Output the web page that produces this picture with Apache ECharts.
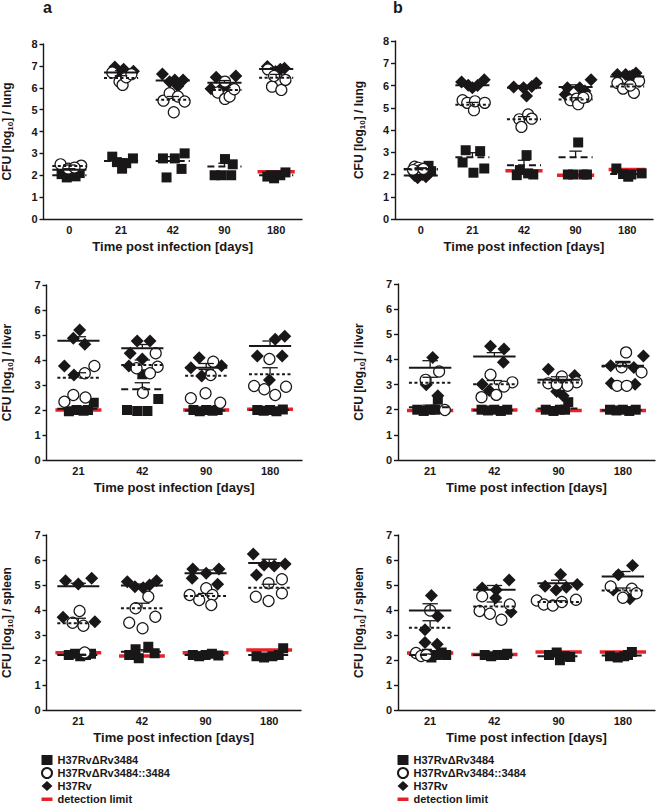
<!DOCTYPE html>
<html><head><meta charset="utf-8">
<script src="https://cdn.jsdelivr.net/npm/echarts@6/dist/echarts.min.js"></script>
<style>html,body{margin:0;padding:0;background:#fff}#c{width:660px;height:805px}</style>
</head><body><div id="c"></div>
<script>
// ---------------- categories ----------------
const DAYS_LUNG = ['0','21','42','90','180'];
const DAYS_ORGAN = ['21','42','90','180'];

// ---------------- panel a, lung ----------------
const A_LUNG_KO = [[2.05,1.9,2.0,1.95,2.1],[2.85,2.6,2.3,2.55,2.77],[2.77,1.9,2.77,2.29,3.0],[2.0,2.0,2.74,2.0,2.5],[1.94,2.0,1.86,2.0,2.13]];
const A_LUNG_COMP = [[2.5,2.44,2.3,2.35],[6.7,6.28,6.13,6.48,6.62],[5.41,5.75,4.88,5.6,5.37],[5.78,6.28,5.49,5.6,5.93],[6.84,6.05,6.54,5.9,6.36]];
const A_LUNG_WT = [[2.2,2.1,2.3,2.15,2.25],[6.95,6.6,6.85,6.55,6.75],[6.63,6.28,6.36,6.08,6.36],[5.95,6.48,6.05,5.9,6.54],[6.97,6.8,6.74,6.85,6.89]];
const A_LUNG_KO_MS = [[2.0,0.05],[2.65,0.1],[2.65,0.2],[2.4,0.15],[2.0,0.05]];
const A_LUNG_COMP_MS = [[2.42,0.05],[6.45,0.1],[5.45,0.15],[5.9,0.1],[6.46,0.15]];
const A_LUNG_WT_MS = [[2.25,0.05],[6.7,0.08],[6.33,0.08],[6.23,0.1],[6.86,0.05]];
const A_LUNG_LIMIT = [null,null,null,null,2.16];

// ---------------- panel b, lung ----------------
const B_LUNG_KO = [[2.39,2.25,2.3,2.2,2.15],[3.09,2.54,2.08,3.05,2.27],[1.97,2.2,2.87,2.05,2.0],[2.0,2.0,3.44,2.0,2.0],[2.27,2.02,1.9,2.0,2.05]];
const B_LUNG_COMP = [[2.35,2.3,2.2,2.2,2.25],[5.34,5.22,4.89,5.29,5.22],[4.48,4.14,4.7,4.51],[5.34,5.41,5.16,5.49,5.45],[6.11,5.86,5.67,6.2,6.0]];
const B_LUNG_WT = [[1.85,1.95,2.0,1.9,2.05],[6.16,6.01,5.9,6.0,6.26],[5.93,5.9,5.53,5.95,6.11],[5.6,5.9,5.9,5.75,6.26],[6.5,6.5,6.56,6.4,6.45]];
const B_LUNG_KO_MS = [[2.25,0.05],[2.78,0.2],[2.42,0.22],[2.78,0.27],[2.02,0.05]];
const B_LUNG_COMP_MS = [[2.23,0.04],[5.14,0.1],[4.48,0.12],[5.37,0.08],[5.96,0.1]];
const B_LUNG_WT_MS = [[1.95,0.05],[6.01,0.08],[5.9,0.1],[5.93,0.1],[6.41,0.05]];
const B_LUNG_LIMIT = [null,null,2.17,1.97,2.23];

// ---------------- panel a, liver ----------------
const A_LIVER_KO = [[2.29,1.95,2.0,1.97,2.0],[3.43,2.44,2.0,1.96,1.96],[2.0,1.95,2.0,1.97,2.0],[2.0,1.97,2.0,1.95,2.02]];
const A_LIVER_COMP = [[3.76,3.47,2.6,2.5,2.33],[4.27,3.67,3.73,3.47,2.69],[3.93,3.4,2.67,2.47,2.29],[4.04,2.96,2.83,2.6,2.93]];
const A_LIVER_WT = [[5.2,4.87,4.63,3.76,3.4],[4.76,4.76,4.27,4.04,3.76],[4.09,3.77,3.69,3.36],[4.83,4.95,4.16,4.16,3.2]];
const A_LIVER_KO_MS = [[2.05,0.06],[2.83,0.26],[1.98,0.02],[2.0,0.02]];
const A_LIVER_COMP_MS = [[3.29,0.2],[3.8,0.2],[3.37,0.25],[3.43,0.26]];
const A_LIVER_WT_MS = [[4.77,0.16],[4.47,0.15],[3.69,0.17],[4.56,0.2]];
const A_LIVER_LIMIT = [2.0,null,2.0,2.03];

// ---------------- panel b, liver ----------------
const B_LIVER_KO = [[2.0,1.95,2.0,2.0,2.4],[2.0,1.97,2.0,1.95,2.0],[2.0,1.95,2.3,2.0,2.0],[2.0,1.97,2.0,1.95,2.0]];
const B_LIVER_COMP = [[3.52,3.19,1.99],[3.39,3.09,2.92,2.59,2.5],[3.32,3.05,3.09,2.95,3.0],[4.28,3.69,3.49,2.95,2.95]];
const B_LIVER_WT = [[4.08,2.99,2.56],[4.52,4.41,3.89,3.01,2.76],[3.61,3.36,2.72,2.56],[4.14,3.75,3.68,3.05,3.01]];
const B_LIVER_KO_MS = [[2.1,0.08],[1.98,0.02],[2.05,0.05],[1.98,0.02]];
const B_LIVER_COMP_MS = [[3.07,0.22],[3.01,0.15],[3.08,0.07],[3.72,0.15]];
const B_LIVER_WT_MS = [[3.67,0.28],[4.12,0.15],[3.19,0.12],[3.75,0.17]];
const B_LIVER_LIMIT = [1.97,1.99,1.97,1.97];

// ---------------- panel a, spleen ----------------
const A_SPLEEN_KO = [[2.2,2.25,2.15,2.2,2.25],[2.53,2.43,2.2,2.07,2.27],[2.2,2.15,2.2,2.25,2.18],[2.47,2.15,2.1,2.15,2.2]];
const A_SPLEEN_COMP = [[3.96,3.49,3.37,2.3],[4.53,4.07,3.49,3.73,3.27],[4.87,4.6,4.4,4.6,4.2],[5.23,5.07,4.53,4.67,4.36]];
const A_SPLEEN_WT = [[5.17,5.04,5.27,3.71,3.53],[5.13,5.17,4.93,4.89,5.0],[5.64,5.64,5.47,5.27,5.03],[6.24,5.8,5.76,5.84,5.4]];
const A_SPLEEN_KO_MS = [[2.2,0.03],[2.33,0.08],[2.2,0.02],[2.2,0.06]];
const A_SPLEEN_COMP_MS = [[3.47,0.2],[4.07,0.2],[4.56,0.1],[4.89,0.14]];
const A_SPLEEN_WT_MS = [[4.95,0.12],[4.98,0.06],[5.47,0.13],[5.88,0.15]];
const A_SPLEEN_LIMIT = [2.29,2.16,2.29,2.4];

// ---------------- panel b, spleen ----------------
const B_SPLEEN_KO = [[2.25,2.1,2.2,2.3,2.2],[2.2,2.15,2.2,2.2,2.25],[2.3,2.12,1.99,2.2,2.15],[2.32,2.15,2.1,2.15,2.2]];
const B_SPLEEN_COMP = [[3.98,2.28,2.16,2.2],[4.55,4.22,3.96,3.85,3.61],[4.38,4.22,4.18,4.32,4.41],[4.94,4.85,4.49,4.67]];
const B_SPLEEN_WT = [[4.58,3.21,3.75,2.7,2.63],[5.2,4.88,4.8,4.48,3.92],[5.42,4.95,4.8,4.91,5.02],[5.78,5.41,4.8,4.45]];
const B_SPLEEN_KO_MS = [[2.2,0.04],[2.2,0.03],[2.15,0.05],[2.18,0.04]];
const B_SPLEEN_COMP_MS = [[3.29,0.28],[4.14,0.18],[4.32,0.05],[4.78,0.1]];
const B_SPLEEN_WT_MS = [[3.98,0.27],[4.81,0.17],[5.07,0.12],[5.34,0.2]];
const B_SPLEEN_LIMIT = [2.28,2.22,2.32,2.32];

// ---------------- layout: horizontal scatter offsets (fraction of a category band) ----------------
const A_LUNG_KO_DX = [[-0.15,-0.05,0.03,0.12,0.2],[-0.17,-0.08,0.02,0.1,0.23],[-0.19,-0.12,0.04,0.17,0.23],[-0.19,-0.06,0.01,0.13,0.16],[-0.17,-0.1,-0.04,0.08,0.18]];
const A_LUNG_COMP_DX = [[-0.17,0.23,-0.02,0.1],[-0.17,-0.03,0.03,0.1,0.2],[-0.18,-0.06,0.02,0.1,0.23],[-0.13,0.01,0.01,0.1,0.19],[-0.16,-0.08,-0.04,0.1,0.18]];
const A_LUNG_WT_DX = [[-0.1,0.05,0.15,-0.02,0.08],[-0.12,-0.02,0.05,0.12,0.24],[-0.2,-0.06,0.04,0.1,0.2],[-0.26,-0.16,-0.03,0.13,0.22],[-0.17,-0.1,-0.01,0.08,0.16]];
const B_LUNG_KO_DX = [[0.15,0.05,-0.05,0.1,0.2],[-0.13,-0.19,0.02,0.15,0.23],[-0.14,-0.08,0.05,0.08,0.18],[-0.15,-0.05,0.05,0.15,0.22],[-0.21,-0.08,0.02,0.08,0.28]];
const B_LUNG_COMP_DX = [[-0.12,-0.05,0.0,-0.15,0.05],[-0.19,-0.1,0.03,0.05,0.24],[-0.09,-0.05,0.08,0.15],[-0.1,0.02,0.05,0.21,0.15],[-0.19,-0.08,0.13,0.23,0.06]];
const B_LUNG_WT_DX = [[-0.06,-0.12,0.03,0.1,0.16],[-0.21,-0.08,0.0,0.1,0.23],[-0.2,-0.01,0.05,0.15,0.24],[-0.2,-0.16,0.08,0.18,0.3],[-0.19,-0.03,0.17,0.05,0.1]];
const A_LIVER_KO_DX = [[0.24,-0.15,-0.03,0.08,0.15],[0.0,0.25,-0.24,-0.08,0.08],[-0.2,-0.1,0.0,0.1,0.18],[-0.2,-0.1,0.0,0.1,0.2]];
const A_LIVER_COMP_DX = [[0.25,0.1,-0.08,0.11,-0.22],[0.21,-0.09,0.24,0.12,0.01],[0.11,0.07,-0.01,-0.24,0.22],[-0.01,-0.25,-0.09,0.08,0.25]];
const A_LIVER_WT_DX = [[0.02,-0.08,0.1,-0.22,-0.07],[-0.08,0.12,-0.19,0.0,-0.21],[-0.11,0.24,-0.24,-0.07],[0.08,0.23,-0.2,0.19,-0.01]];
const B_LIVER_KO_DX = [[-0.2,-0.1,0.0,0.08,0.12],[-0.2,-0.1,0.0,0.1,0.2],[-0.2,-0.08,0.15,0.02,0.1],[-0.2,-0.1,0.0,0.1,0.2]];
const B_LIVER_COMP_DX = [[0.14,-0.07,0.23],[-0.06,0.28,0.15,0.03,-0.2],[0.05,-0.16,0.28,0.14,-0.03],[0.05,-0.02,0.29,-0.09,0.06]];
const B_LIVER_WT_DX = [[0.04,-0.06,0.12],[-0.06,0.15,0.14,-0.19,-0.08],[-0.16,0.25,-0.03,0.07],[0.32,-0.19,0.17,-0.18,0.19]];
const A_SPLEEN_KO_DX = [[-0.15,-0.05,0.03,0.12,0.2],[0.1,-0.1,-0.2,-0.05,0.2],[-0.2,-0.1,0.0,0.1,0.2],[0.22,-0.2,-0.08,0.05,0.15]];
const A_SPLEEN_COMP_DX = [[0.02,-0.09,0.08,0.1],[0.1,-0.1,-0.2,0.21,0.01],[0.01,-0.25,-0.1,0.11,0.09],[0.2,-0.01,-0.21,0.2,-0.01]];
const A_SPLEEN_WT_DX = [[-0.2,0.0,0.21,-0.24,0.26],[-0.23,0.23,-0.11,0.02,0.12],[-0.2,0.21,0.01,-0.21,0.19],[-0.25,-0.08,0.08,0.25,-0.2]];
const B_SPLEEN_KO_DX = [[-0.05,0.02,0.1,0.18,0.25],[-0.15,-0.05,0.05,0.15,0.2],[-0.03,0.18,0.02,-0.15,0.1],[0.14,-0.2,-0.08,0.02,0.08]];
const B_SPLEEN_COMP_DX = [[0.0,-0.22,-0.14,-0.06],[-0.19,0.24,-0.23,-0.07,0.11],[-0.34,-0.23,-0.09,0.05,0.27],[-0.19,0.14,0.0,0.21]];
const B_SPLEEN_WT_DX = [[0.02,-0.08,0.12,-0.08,0.11],[0.23,-0.19,0.03,0.02,0.26],[0.03,-0.21,-0.04,0.12,0.29],[0.15,-0.07,-0.15,0.11]];

// ---------------- labels ----------------
const NAME_KO = 'H37RvΔRv3484';
const NAME_COMP = 'H37RvΔRv3484::3484';
const NAME_WT = 'H37Rv';
const NAME_LIM = 'detection limit';
const X_TITLE = 'Time post infection [days]';

// ---------------- build ----------------
const FONT = '"Liberation Sans", Arial, Helvetica, sans-serif';
const INK = '#1a1718';
const RED = '#e8202a';
const MEAN_HALF = 0.33, CAP_HALF = 0.12, LIM_HALF = 0.36;

const panels = [
  {organ:'lung', days:DAYS_LUNG, ymax:8, grid:{left:41,top:44,width:261,height:175}, yGap:29,
   ko:A_LUNG_KO, koDx:A_LUNG_KO_DX, comp:A_LUNG_COMP, compDx:A_LUNG_COMP_DX, wt:A_LUNG_WT, wtDx:A_LUNG_WT_DX,
   koMs:A_LUNG_KO_MS, compMs:A_LUNG_COMP_MS, wtMs:A_LUNG_WT_MS, lim:A_LUNG_LIMIT},
  {organ:'lung', days:DAYS_LUNG, ymax:8, grid:{left:395,top:41,width:258,height:178}, yGap:29,
   ko:B_LUNG_KO, koDx:B_LUNG_KO_DX, comp:B_LUNG_COMP, compDx:B_LUNG_COMP_DX, wt:B_LUNG_WT, wtDx:B_LUNG_WT_DX,
   koMs:B_LUNG_KO_MS, compMs:B_LUNG_COMP_MS, wtMs:B_LUNG_WT_MS, lim:B_LUNG_LIMIT},
  {organ:'liver', days:DAYS_ORGAN, ymax:7, grid:{left:41,top:285,width:261,height:175}, yGap:32,
   ko:A_LIVER_KO, koDx:A_LIVER_KO_DX, comp:A_LIVER_COMP, compDx:A_LIVER_COMP_DX, wt:A_LIVER_WT, wtDx:A_LIVER_WT_DX,
   koMs:A_LIVER_KO_MS, compMs:A_LIVER_COMP_MS, wtMs:A_LIVER_WT_MS, lim:A_LIVER_LIMIT},
  {organ:'liver', days:DAYS_ORGAN, ymax:7, grid:{left:398,top:284,width:257,height:176}, yGap:32,
   ko:B_LIVER_KO, koDx:B_LIVER_KO_DX, comp:B_LIVER_COMP, compDx:B_LIVER_COMP_DX, wt:B_LIVER_WT, wtDx:B_LIVER_WT_DX,
   koMs:B_LIVER_KO_MS, compMs:B_LIVER_COMP_MS, wtMs:B_LIVER_WT_MS, lim:B_LIVER_LIMIT},
  {organ:'spleen', days:DAYS_ORGAN, ymax:7, grid:{left:41,top:535,width:260,height:175}, yGap:32,
   ko:A_SPLEEN_KO, koDx:A_SPLEEN_KO_DX, comp:A_SPLEEN_COMP, compDx:A_SPLEEN_COMP_DX, wt:A_SPLEEN_WT, wtDx:A_SPLEEN_WT_DX,
   koMs:A_SPLEEN_KO_MS, compMs:A_SPLEEN_COMP_MS, wtMs:A_SPLEEN_WT_MS, lim:A_SPLEEN_LIMIT},
  {organ:'spleen', days:DAYS_ORGAN, ymax:7, grid:{left:398,top:535,width:257,height:175}, yGap:32,
   ko:B_SPLEEN_KO, koDx:B_SPLEEN_KO_DX, comp:B_SPLEEN_COMP, compDx:B_SPLEEN_COMP_DX, wt:B_SPLEEN_WT, wtDx:B_SPLEEN_WT_DX,
   koMs:B_SPLEEN_KO_MS, compMs:B_SPLEEN_COMP_MS, wtMs:B_SPLEEN_WT_MS, lim:B_SPLEEN_LIMIT}
];

const lab = {color:INK, fontWeight:'bold', fontSize:11, fontFamily:FONT};
const axLine = {color:INK, width:1.4};

function pts(vals, dx) {
  const out = [];
  vals.forEach((arr, t) => arr.forEach((v, k) => out.push([t + dx[t][k], v])));
  return out;
}

function meanSeries(gi, ms, dash) {
  return {
    type:'custom', name:'mean' + gi, xAxisIndex:2*gi+1, yAxisIndex:gi, z:10, silent:true,
    data: ms.map((d, i) => [i, d[0], d[1]]),
    renderItem: (params, api) => {
      const x = api.value(0), m = api.value(1), s = api.value(2);
      const a = api.coord([x - MEAN_HALF, m]), b = api.coord([x + MEAN_HALF, m]);
      const c = api.coord([x, m]), t = api.coord([x, m + s]);
      const l = api.coord([x - CAP_HALF, m + s]), r = api.coord([x + CAP_HALF, m + s]);
      const st = {stroke:INK, lineWidth:2};
      if (dash) st.lineDash = dash;
      return {type:'group', children:[
        {type:'line', shape:{x1:a[0],y1:a[1],x2:b[0],y2:b[1]}, style:st},
        {type:'line', shape:{x1:c[0],y1:c[1],x2:t[0],y2:t[1]}, style:{stroke:INK, lineWidth:1.3}},
        {type:'line', shape:{x1:l[0],y1:l[1],x2:r[0],y2:r[1]}, style:{stroke:INK, lineWidth:1.3}}
      ]};
    }
  };
}

function limitSeries(gi, lim) {
  const data = [];
  lim.forEach((v, i) => { if (v != null) data.push([i, v]); });
  return {
    type:'custom', name:'limit' + gi, xAxisIndex:2*gi+1, yAxisIndex:gi, z:1, silent:true,
    data: data,
    renderItem: (params, api) => {
      const x = api.value(0), v = api.value(1);
      const a = api.coord([x - LIM_HALF, v]), b = api.coord([x + LIM_HALF, v]);
      return {type:'line', shape:{x1:a[0],y1:a[1],x2:b[0],y2:b[1]}, style:{stroke:RED, lineWidth:3.5}};
    }
  };
}

const grid = [], xAxis = [], yAxis = [], series = [];
panels.forEach((p, gi) => {
  grid.push(p.grid);
  xAxis.push({gridIndex:gi, type:'category', data:p.days, boundaryGap:true,
    axisLine:{onZero:false, lineStyle:axLine}, axisTick:{show:false}, splitLine:{show:false},
    axisLabel:Object.assign({margin:5}, lab),
    name:X_TITLE, nameLocation:'middle', nameGap:21,
    nameTextStyle:{color:INK, fontWeight:'bold', fontSize:13, fontFamily:FONT}});
  xAxis.push({gridIndex:gi, type:'value', min:-0.5, max:p.days.length - 0.5, show:false,
    axisLine:{onZero:false}, splitLine:{show:false}});
  yAxis.push({gridIndex:gi, type:'value', min:0, max:p.ymax, interval:1,
    axisLine:{show:true, onZero:false, lineStyle:axLine}, axisTick:{show:true, length:4, lineStyle:axLine},
    splitLine:{show:false}, axisLabel:Object.assign({margin:6}, lab),
    name:'{a|CFU [log}{s|10}{a|] / ' + p.organ + '}', nameLocation:'middle', nameGap:p.yGap, nameRotate:90,
    nameTextStyle:{color:INK, fontWeight:'bold', fontSize:12, fontFamily:FONT,
      rich:{a:{color:INK, fontWeight:'bold', fontSize:12, fontFamily:FONT},
            s:{color:INK, fontWeight:'bold', fontSize:8, fontFamily:FONT, padding:[7,0,0,0]}}}});

  series.push(limitSeries(gi, p.lim));
  series.push({type:'scatter', name:NAME_KO, xAxisIndex:2*gi+1, yAxisIndex:gi, z:2, silent:true,
    symbol:'rect', symbolSize:10, itemStyle:{color:INK, opacity:1}, data:pts(p.ko, p.koDx)});
  series.push({type:'scatter', name:NAME_WT, xAxisIndex:2*gi+1, yAxisIndex:gi, z:3, silent:true,
    symbol:'diamond', symbolSize:13, itemStyle:{color:INK, opacity:1}, data:pts(p.wt, p.wtDx)});
  series.push({type:'scatter', name:NAME_COMP, xAxisIndex:2*gi+1, yAxisIndex:gi, z:4, silent:true,
    symbol:'circle', symbolSize:11, itemStyle:{color:'#fff', borderColor:INK, borderWidth:1.2, opacity:1}, data:pts(p.comp, p.compDx)});
  series.push(meanSeries(gi, p.koMs, [7,4]));
  series.push(meanSeries(gi, p.compMs, [3,2.5]));
  series.push(meanSeries(gi, p.wtMs, null));
});
// legend-only line for the detection limit
series.push({type:'line', name:NAME_LIM, xAxisIndex:1, yAxisIndex:0, data:[], symbol:'none',
  lineStyle:{color:RED, width:3.5}, itemStyle:{color:RED}});

const LIM_ICON = 'path://M0,0M0,3.5L11,3.5L11,7L0,7ZM11,10';
const legendBase = {orient:'vertical', top:754, height:60, itemWidth:11, itemHeight:10, itemGap:1, padding:0,
  selectedMode:false, textStyle:{color:INK, fontWeight:'bold', fontSize:11, lineHeight:12, fontFamily:FONT},
  data:[NAME_KO, NAME_COMP, NAME_WT, {name:NAME_LIM, icon:LIM_ICON, itemStyle:{color:RED}}]};

const chart = echarts.init(document.getElementById('c'), null, {renderer:'svg'});
chart.setOption({
  animation:false,
  backgroundColor:'#fff',
  title:[
    {text:'a', left:43, top:-1, padding:0, textStyle:{color:INK, fontWeight:'bold', fontSize:16, fontFamily:FONT}},
    {text:'b', left:393, top:-1, padding:0, textStyle:{color:INK, fontWeight:'bold', fontSize:16, fontFamily:FONT}}
  ],
  legend:[Object.assign({left:41}, legendBase), Object.assign({left:397}, legendBase)],
  grid:grid, xAxis:xAxis, yAxis:yAxis, series:series
});
</script>
</body></html>
